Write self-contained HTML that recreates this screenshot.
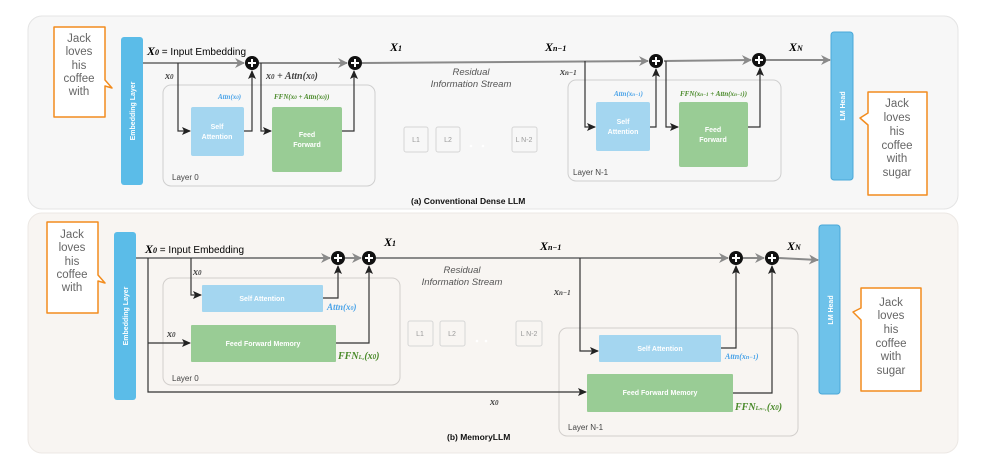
<!DOCTYPE html>
<html><head><meta charset="utf-8"><style>
html,body{margin:0;padding:0;background:#fff;}
svg{display:block;font-family:"Liberation Sans",sans-serif;}
.m{font-family:"Liberation Serif",serif;font-style:italic;font-weight:bold;}
</style></head><body>
<svg width="987" height="473" viewBox="0 0 987 473" xmlns="http://www.w3.org/2000/svg">
<defs>
<marker id="ga" markerWidth="10" markerHeight="10" refX="9" refY="5" orient="auto" markerUnits="userSpaceOnUse"><path d="M0,0 L10,5 L0,10 L3,5 z" fill="#8a8a8a"/></marker>
<marker id="ba" markerWidth="9" markerHeight="8" refX="8" refY="4" orient="auto" markerUnits="userSpaceOnUse"><path d="M0,0 L9,4 L0,8 L2,4 z" fill="#222"/></marker>
<g id="plus"><circle r="7" fill="#111"/><path d="M-4,0 H4 M0,-4 V4" stroke="#fff" stroke-width="2"/></g>
</defs>

<!-- Panel a -->
<rect x="28" y="16" width="930" height="193" rx="14" fill="#f7f7f7" stroke="#e4e4e4"/>
<!-- bubble left -->
<path d="M54,27 H105 V80 L112,88 L105,86 V117 H54 Z" fill="#fff" stroke="#f28c1e" stroke-width="1.5" stroke-linejoin="round"/>
<g fill="#666" font-size="11.5" text-anchor="middle"><text x="79" y="42">Jack</text><text x="79" y="55">loves</text><text x="79" y="69">his</text><text x="79" y="82">coffee</text><text x="79" y="95">with</text></g>
<rect x="121" y="37" width="22" height="148" rx="3" fill="#5bbce8"/>
<text transform="translate(135,111) rotate(-90)" text-anchor="middle" fill="#fff" font-size="7" font-weight="bold">Embedding Layer</text>
<rect x="831" y="32" width="22" height="148" rx="3" fill="#6ec2ea" stroke="#4aa8d8"/>
<text transform="translate(845,106) rotate(-90)" text-anchor="middle" fill="#fff" font-size="7" font-weight="bold">LM Head</text>
<path d="M868,92 H927 V195 H868 V125 L860,118 L868,113 Z" fill="#fff" stroke="#f28c1e" stroke-width="1.5" stroke-linejoin="round"/>
<g fill="#666" font-size="11.5" text-anchor="middle"><text x="897" y="107">Jack</text><text x="897" y="121">loves</text><text x="897" y="135">his</text><text x="897" y="149">coffee</text><text x="897" y="162">with</text><text x="897" y="176">sugar</text></g>
<!-- residual a -->
<g stroke="#8a8a8a" stroke-width="2" fill="none" marker-end="url(#ga)">
<line x1="143" y1="63" x2="244" y2="63"/><line x1="259" y1="63" x2="347" y2="63"/>
<line x1="362" y1="63" x2="648" y2="61"/><line x1="664" y1="61" x2="751" y2="60"/>
<line x1="766" y1="60" x2="830" y2="60"/></g>
<use href="#plus" x="252" y="63"/><use href="#plus" x="355" y="63"/><use href="#plus" x="656" y="61"/><use href="#plus" x="759" y="60"/>
<text x="147" y="55" font-size="10"><tspan class="m" font-size="12">X</tspan><tspan font-size="8" class="m">0</tspan> = Input Embedding</text>
<text x="390" y="51" class="m" font-size="12">X<tspan font-size="8">1</tspan></text>
<text x="545" y="51" class="m" font-size="12">X<tspan font-size="8">n−1</tspan></text>
<text x="789" y="51" class="m" font-size="12">X<tspan font-size="8">N</tspan></text>
<g font-size="9.5" font-style="italic" fill="#555" text-anchor="middle"><text x="471" y="75">Residual</text><text x="471" y="87">Information Stream</text></g>
<!-- Layer 0 a -->
<rect x="163" y="85" width="212" height="101" rx="8" fill="none" stroke="#cfcfcf"/>
<text x="172" y="180" font-size="8" fill="#444">Layer 0</text>
<rect x="191" y="107" width="53" height="49" rx="2" fill="#a4d6f0"/>
<g fill="#fff" font-size="7" font-weight="bold" text-anchor="middle"><text x="217" y="129">Self</text><text x="217" y="139">Attention</text></g>
<rect x="272" y="107" width="70" height="65" rx="2" fill="#99cc95"/>
<g fill="#fff" font-size="7" font-weight="bold" text-anchor="middle"><text x="307" y="137">Feed</text><text x="307" y="147">Forward</text></g>
<g stroke="#333" stroke-width="1.2" fill="none">
<polyline points="178,63 178,131 190,131" marker-end="url(#ba)"/>
<polyline points="244,131 252,131 252,71" marker-end="url(#ba)"/>
<polyline points="261,63 261,131 271,131" marker-end="url(#ba)"/>
<polyline points="342,131 354,131 354,71" marker-end="url(#ba)"/></g>
<text x="165" y="79" class="m" font-size="10" fill="#444">x<tspan font-size="7">0</tspan></text>
<text x="266" y="79" class="m" font-size="10" fill="#444">x<tspan font-size="7">0</tspan> + Attn(x<tspan font-size="7">0</tspan>)</text>
<text x="218" y="99" class="m" font-size="7" fill="#4aa3e8">Attn(x<tspan font-size="5">0</tspan>)</text>
<text x="274" y="99" class="m" font-size="7" fill="#4a8a2a">FFN(x<tspan font-size="5">0</tspan> + Attn(x<tspan font-size="5">0</tspan>))</text>
<!-- mini layers a -->
<g fill="none" stroke="#d6d6d6"><rect x="404" y="127" width="24" height="25" rx="2"/><rect x="436" y="127" width="24" height="25" rx="2"/><rect x="512" y="127" width="25" height="25" rx="2"/></g>
<g font-size="7" fill="#999" text-anchor="middle"><text x="416" y="142">L1</text><text x="448" y="142">L2</text><text x="524" y="142">L N-2</text></g>
<circle cx="471" cy="146" r="1.3" fill="#fff"/><circle cx="483" cy="146" r="1.3" fill="#fff"/>
<!-- Layer N-1 a -->
<rect x="568" y="80" width="213" height="101" rx="8" fill="none" stroke="#cfcfcf"/>
<text x="573" y="175" font-size="8" fill="#444">Layer N-1</text>
<rect x="596" y="102" width="54" height="49" rx="2" fill="#a4d6f0"/>
<g fill="#fff" font-size="7" font-weight="bold" text-anchor="middle"><text x="623" y="124">Self</text><text x="623" y="134">Attention</text></g>
<rect x="679" y="102" width="69" height="65" rx="2" fill="#99cc95"/>
<g fill="#fff" font-size="7" font-weight="bold" text-anchor="middle"><text x="713" y="132">Feed</text><text x="713" y="142">Forward</text></g>
<g stroke="#333" stroke-width="1.2" fill="none">
<polyline points="585,61 585,127 595,127" marker-end="url(#ba)"/>
<polyline points="650,127 656,127 656,69" marker-end="url(#ba)"/>
<polyline points="666,61 666,127 678,127" marker-end="url(#ba)"/>
<polyline points="748,127 760,127 760,68" marker-end="url(#ba)"/></g>
<text x="560" y="75" class="m" font-size="10" fill="#444">x<tspan font-size="7">n−1</tspan></text>
<text x="614" y="96" class="m" font-size="7" fill="#4aa3e8">Attn(x<tspan font-size="5">n−1</tspan>)</text>
<text x="680" y="96" class="m" font-size="7" fill="#4a8a2a">FFN(x<tspan font-size="5">n−1</tspan> + Attn(x<tspan font-size="5">n−1</tspan>))</text>
<text x="411" y="204" font-size="8.5" font-weight="bold" fill="#111">(a) Conventional Dense LLM</text>

<!-- Panel b -->
<rect x="28" y="213" width="930" height="240" rx="14" fill="#f8f5f2" stroke="#ece8e4"/>
<path d="M47,222 H98 V275 L105,283 L98,281 V313 H47 Z" fill="#fff" stroke="#f28c1e" stroke-width="1.5" stroke-linejoin="round"/>
<g fill="#666" font-size="11.5" text-anchor="middle"><text x="72" y="238">Jack</text><text x="72" y="251">loves</text><text x="72" y="265">his</text><text x="72" y="278">coffee</text><text x="72" y="291">with</text></g>
<rect x="114" y="232" width="22" height="168" rx="3" fill="#5bbce8"/>
<text transform="translate(128,316) rotate(-90)" text-anchor="middle" fill="#fff" font-size="7" font-weight="bold">Embedding Layer</text>
<rect x="819" y="225" width="21" height="169" rx="3" fill="#6ec2ea" stroke="#4aa8d8"/>
<text transform="translate(833,310) rotate(-90)" text-anchor="middle" fill="#fff" font-size="7" font-weight="bold">LM Head</text>
<path d="M861,288 H921 V391 H861 V320 L853,312 L861,308 Z" fill="#fff" stroke="#f28c1e" stroke-width="1.5" stroke-linejoin="round"/>
<g fill="#666" font-size="11.5" text-anchor="middle"><text x="891" y="306">Jack</text><text x="891" y="319">loves</text><text x="891" y="333">his</text><text x="891" y="347">coffee</text><text x="891" y="360">with</text><text x="891" y="374">sugar</text></g>
<g stroke="#8a8a8a" stroke-width="2" fill="none" marker-end="url(#ga)">
<line x1="136" y1="258" x2="330" y2="258"/><line x1="345" y1="258" x2="361" y2="258"/>
<line x1="376" y1="258" x2="728" y2="258"/><line x1="743" y1="258" x2="764" y2="258"/>
<line x1="779" y1="258" x2="818" y2="260"/></g>
<use href="#plus" x="338" y="258"/><use href="#plus" x="369" y="258"/><use href="#plus" x="736" y="258"/><use href="#plus" x="772" y="258"/>
<text x="145" y="253" font-size="10"><tspan class="m" font-size="12">X</tspan><tspan font-size="8" class="m">0</tspan> = Input Embedding</text>
<text x="384" y="246" class="m" font-size="12">X<tspan font-size="8">1</tspan></text>
<text x="540" y="250" class="m" font-size="12">X<tspan font-size="8">n−1</tspan></text>
<text x="787" y="250" class="m" font-size="12">X<tspan font-size="8">N</tspan></text>
<g font-size="9.5" font-style="italic" fill="#555" text-anchor="middle"><text x="462" y="273">Residual</text><text x="462" y="285">Information Stream</text></g>
<rect x="163" y="278" width="237" height="107" rx="8" fill="none" stroke="#d2cfcc"/>
<text x="172" y="381" font-size="8" fill="#444">Layer 0</text>
<rect x="202" y="285" width="121" height="27" rx="1" fill="#a4d6f0"/>
<text x="262" y="301" fill="#fff" font-size="7" font-weight="bold" text-anchor="middle">Self Attention</text>
<rect x="191" y="325" width="145" height="37" rx="1" fill="#99cc95"/>
<text x="263" y="346" fill="#fff" font-size="7" font-weight="bold" text-anchor="middle">Feed Forward Memory</text>
<rect x="559" y="328" width="239" height="108" rx="8" fill="none" stroke="#d2cfcc"/>
<text x="568" y="430" font-size="8" fill="#444">Layer N-1</text>
<rect x="599" y="335" width="122" height="27" rx="1" fill="#a4d6f0"/>
<text x="660" y="351" fill="#fff" font-size="7" font-weight="bold" text-anchor="middle">Self Attention</text>
<rect x="587" y="374" width="146" height="38" rx="1" fill="#99cc95"/>
<text x="660" y="395" fill="#fff" font-size="7" font-weight="bold" text-anchor="middle">Feed Forward Memory</text>
<g stroke="#333" stroke-width="1.2" fill="none">
<polyline points="191,258 191,295 201,295" marker-end="url(#ba)"/>
<polyline points="323,298 338,298 338,266" marker-end="url(#ba)"/>
<polyline points="148,258 148,392 586,392" marker-end="url(#ba)"/>
<polyline points="148,343 190,343" marker-end="url(#ba)"/>
<polyline points="336,343 369,343 369,266" marker-end="url(#ba)"/>
<polyline points="580,258 580,351 598,351" marker-end="url(#ba)"/>
<polyline points="721,348 736,348 736,266" marker-end="url(#ba)"/>
<polyline points="733,393 772,393 772,266" marker-end="url(#ba)"/></g>
<text x="193" y="275" class="m" font-size="10" fill="#444">x<tspan font-size="7">0</tspan></text>
<text x="167" y="337" class="m" font-size="10" fill="#444">x<tspan font-size="7">0</tspan></text>
<text x="490" y="405" class="m" font-size="10" fill="#444">x<tspan font-size="7">0</tspan></text>
<text x="554" y="295" class="m" font-size="10" fill="#444">x<tspan font-size="7">n−1</tspan></text>
<text x="327" y="310" class="m" font-size="9" fill="#4aa3e8">Attn(x<tspan font-size="6">0</tspan>)</text>
<text x="338" y="359" class="m" font-size="10" fill="#4a8a2a">FFN<tspan font-size="6">L₀</tspan>(x<tspan font-size="7">0</tspan>)</text>
<text x="725" y="359" class="m" font-size="8" fill="#4aa3e8">Attn(x<tspan font-size="6">n−1</tspan>)</text>
<text x="735" y="410" class="m" font-size="10" fill="#4a8a2a">FFN<tspan font-size="6">Lₙ₋₁</tspan>(x<tspan font-size="7">0</tspan>)</text>
<g fill="none" stroke="#d6d6d6"><rect x="408" y="321" width="25" height="25" rx="2"/><rect x="440" y="321" width="25" height="25" rx="2"/><rect x="516" y="321" width="26" height="25" rx="2"/></g>
<g font-size="7" fill="#999" text-anchor="middle"><text x="420" y="336">L1</text><text x="452" y="336">L2</text><text x="529" y="336">L N-2</text></g>
<circle cx="477" cy="341" r="1.3" fill="#fff"/><circle cx="486" cy="341" r="1.3" fill="#fff"/>
<text x="447" y="440" font-size="8.5" font-weight="bold" fill="#111">(b) MemoryLLM</text>
</svg>
</body></html>
